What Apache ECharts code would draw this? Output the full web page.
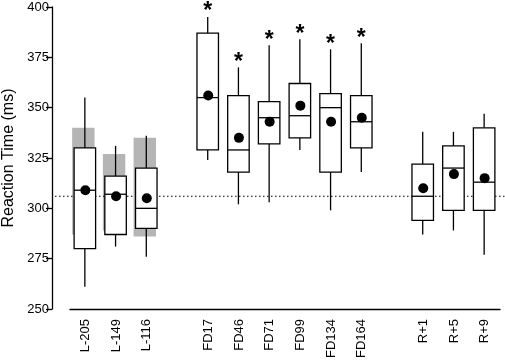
<!DOCTYPE html>
<html>
<head>
<meta charset="utf-8">
<script src="https://cdn.jsdelivr.net/npm/echarts@6/dist/echarts.min.js"></script>
<style>
  html, body { margin: 0; padding: 0; background: #fff; }
  #chart { width: 505px; height: 363px; }
</style>
</head>
<body>
<div id="chart"></div>
<script>
  // categories, blanks are the gaps between the groups
  var categories = ['L-205', 'L-149', 'L-116', '', 'FD17', 'FD46', 'FD71', 'FD99', 'FD134', 'FD164', '', 'R+1', 'R+5', 'R+9'];
  var whiskerLow = [261, 281, 276, null, 324, 302, 303, 329, 299, 318, null, 287, 289, 277];
  var q1 = [280, 287, 290, null, 329, 318, 332, 335, 318, 330, null, 294, 299, 299];
  var median = [309, 307, 300, null, 355, 329, 345, 346, 350, 343, null, 306, 320, 313];
  var q3 = [330, 316, 320, null, 387, 356, 353, 362, 357, 356, null, 322, 331, 340];
  var whiskerHigh = [355, 331, 336, null, 395, 370, 381, 384, 379, 382, null, 338, 338, 347];
  var means = [309, 306, 305, null, 356, 335, 343, 351, 343, 345, null, 310, 317, 315];
  var grayLow = [287, 289, 286];
  var grayHigh = [340, 327, 335];
  var starred = [false, false, false, false, true, true, true, true, true, true, false, false, false, false];
  var baseline = 306;
  var yTicks = [250, 275, 300, 325, 350, 375, 400];

  var font = "'Liberation Sans', Arial, sans-serif";
  var myChart = echarts.init(document.getElementById('chart'));

  var boxData = [];
  for (var i = 0; i < categories.length; i++) {
    if (median[i] == null) continue;
    boxData.push([i, whiskerLow[i], q1[i], median[i], q3[i], whiskerHigh[i]]);
  }
  var grayData = [];
  for (var j = 0; j < grayLow.length; j++) {
    grayData.push([j, grayLow[j], grayHigh[j]]);
  }
  var meanData = [];
  var starData = [];
  for (var k = 0; k < categories.length; k++) {
    if (means[k] != null) meanData.push([k, means[k]]);
    if (starred[k]) starData.push([k, whiskerHigh[k]]);
  }

  var lineStyle = { stroke: '#000', lineWidth: 1.3 };

  myChart.setOption({
    animation: false,
    textStyle: { fontFamily: font },
    grid: { left: 70, right: 5, top: 7, bottom: 54, containLabel: false, outerBoundsMode: 'none' },
    xAxis: {
      type: 'category',
      data: categories,
      boundaryGap: true,
      axisLine: { lineStyle: { color: '#000', width: 1.3 } },
      axisTick: { interval: 0, length: 6, lineStyle: { color: '#000', width: 1.3 } },
      axisLabel: { interval: 0, rotate: 90, margin: 10, color: '#000', fontSize: 13, fontFamily: font },
      splitLine: { show: false }
    },
    yAxis: {
      type: 'value',
      min: yTicks[0],
      max: yTicks[yTicks.length - 1],
      interval: 25,
      offset: 18,
      name: 'Reaction Time (ms)',
      nameLocation: 'middle',
      nameGap: 34,
      nameTextStyle: { color: '#000', fontSize: 16, fontFamily: font },
      axisLine: { show: true, lineStyle: { color: '#000', width: 1.3 } },
      axisTick: { show: true, length: 6, lineStyle: { color: '#000', width: 1.3 } },
      axisLabel: { margin: 3, color: '#000', fontSize: 13, fontFamily: font },
      splitLine: { show: false }
    },
    series: [
      {
        // gray ranges behind the baseline boxes
        type: 'custom',
        z: 1,
        data: grayData,
        renderItem: function (params, api) {
          var c = api.coord([api.value(0), api.value(2)]);
          var b = api.coord([api.value(0), api.value(1)]);
          var w = api.size([1, 0])[0] * 0.73;
          return {
            type: 'rect',
            shape: { x: c[0] - 2 - w / 2, y: c[1], width: w, height: b[1] - c[1] },
            style: { fill: '#b5b5b5' }
          };
        }
      },
      {
        // dotted reference line
        type: 'custom',
        z: 2,
        data: [[0, baseline]],
        renderItem: function (params, api) {
          var p = api.coord([0, api.value(1)]);
          return {
            type: 'line',
            shape: { x1: params.coordSys.x - 15, y1: p[1], x2: params.coordSys.x + params.coordSys.width + 5, y2: p[1] },
            style: { stroke: '#000', lineWidth: 1, lineDash: [1.5, 2.5] }
          };
        }
      },
      {
        type: 'custom',
        z: 3,
        data: boxData,
        renderItem: function (params, api) {
          var x = api.coord([api.value(0), 0])[0] - 0.5;
          var w = api.size([1, 0])[0] * 0.7;
          var yLow = api.coord([0, api.value(1)])[1];
          var yQ1 = api.coord([0, api.value(2)])[1];
          var yMed = api.coord([0, api.value(3)])[1];
          var yQ3 = api.coord([0, api.value(4)])[1];
          var yHigh = api.coord([0, api.value(5)])[1];
          return {
            type: 'group',
            children: [
              { type: 'line', shape: { x1: x, y1: yQ3, x2: x, y2: yHigh }, style: lineStyle },
              { type: 'line', shape: { x1: x, y1: yQ1, x2: x, y2: yLow }, style: lineStyle },
              { type: 'rect', shape: { x: x - w / 2, y: yQ3, width: w, height: yQ1 - yQ3 }, style: { fill: '#fff', stroke: '#000', lineWidth: 1.3 } },
              { type: 'line', shape: { x1: x - w / 2, y1: yMed, x2: x + w / 2, y2: yMed }, style: lineStyle }
            ]
          };
        }
      },
      {
        type: 'scatter',
        z: 4,
        data: meanData,
        symbol: 'circle',
        symbolSize: 10,
        itemStyle: { color: '#000', opacity: 1 },
        emphasis: { disabled: true }
      },
      {
        // significance stars above the whiskers
        type: 'custom',
        z: 5,
        data: starData,
        renderItem: function (params, api) {
          var p = api.coord([api.value(0), api.value(1)]);
          return {
            type: 'text',
            style: {
              text: '*',
              x: p[0] - 0.5,
              y: p[1] - 5,
              align: 'center',
              verticalAlign: 'middle',
              fontSize: 23,
              fontWeight: 'bold',
              fontFamily: font,
              fill: '#000'
            }
          };
        }
      }
    ]
  });
</script>
</body>
</html>
